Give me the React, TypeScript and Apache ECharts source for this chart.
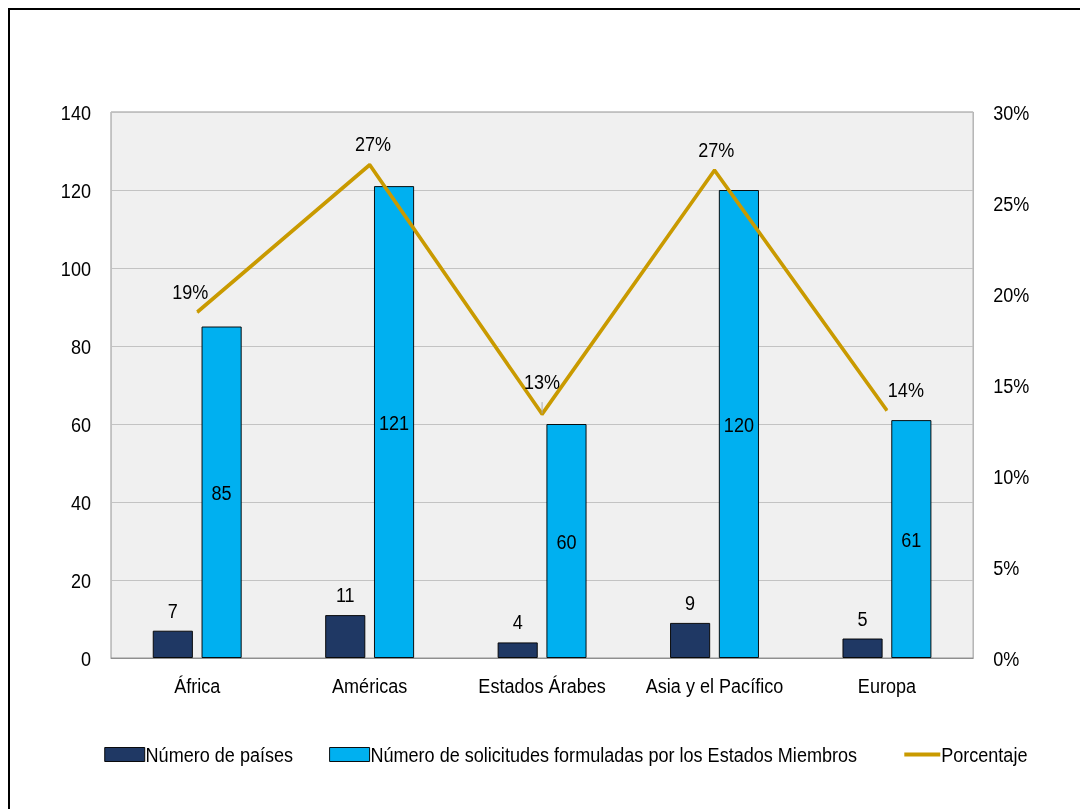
import React, { useEffect, useRef } from "react";
import * as echarts from "echarts";

const categories = ["África", "Américas", "Estados Árabes", "Asia y el Pacífico", "Europa"];
const countries = [7, 11, 4, 9, 5];
const requests = [85, 121, 60, 120, 61];
const percentages = [19.0, 27.1, 13.4, 26.8, 13.6];
const leftTicks = { min: 0, max: 140, interval: 20 };
const rightTicks = { min: 0, max: 30, interval: 5 };

const FONT = "'Liberation Sans', Arial, sans-serif";
const FS = 21;
const SX = 0.86; // horizontal condensing to mimic a narrow typeface
const W = 1080 / SX;
const sx = (v: number) => v / SX;

export default function App() {
  const ref = useRef<HTMLDivElement>(null);
  useEffect(() => {
    if (!ref.current) return;
    const chart = echarts.init(ref.current, null, { renderer: "svg" });
    const lineLabelOffsets: number[][] = [[-8, 0], [4, 0], [0, -12], [2, 0], [22, 0]];
    const legendText = { fontFamily: FONT, fontSize: FS, color: "#000", padding: [0, 0, 0, -4] };
    chart.setOption({
      animation: false,
      textStyle: { fontFamily: FONT, color: "#000" },
      grid: {
        left: sx(111),
        right: sx(107),
        top: 112,
        bottom: 151,
        show: true,
        backgroundColor: "#f0f0f0",
        borderColor: "#8c8c8c",
        borderWidth: 1,
      },
      legend: [
        {
          left: sx(100),
          top: 739,
          itemWidth: sx(40),
          itemHeight: 14,
          itemGap: sx(36),
          textStyle: legendText,
          data: [
            { name: "Número de países", icon: "rect", itemStyle: { borderColor: "#000", borderWidth: 1 } },
            {
              name: "Número de solicitudes formuladas por los Estados Miembros",
              icon: "rect",
              itemStyle: { borderColor: "#000", borderWidth: 1 },
            },
          ],
        },
        {
          left: sx(900),
          top: 739,
          itemWidth: sx(36),
          itemHeight: 14,
          textStyle: legendText,
          data: [{ name: "Porcentaje", icon: "path://M0,0L44,0L44,4L0,4Z" }],
        },
      ],
      xAxis: {
        type: "category",
        data: categories,
        axisLine: { show: true, lineStyle: { color: "#8c8c8c" } },
        axisTick: { show: false },
        axisLabel: { fontFamily: FONT, fontSize: FS, color: "#000", margin: 17, interval: 0 },
      },
      yAxis: [
        {
          type: "value",
          min: leftTicks.min,
          max: leftTicks.max,
          interval: leftTicks.interval,
          axisLine: { show: false },
          axisTick: { show: false },
          splitLine: { show: true, lineStyle: { color: "#c0c0c0", width: 1 } },
          axisLabel: { fontFamily: FONT, fontSize: FS, color: "#000", margin: sx(20) },
        },
        {
          type: "value",
          min: rightTicks.min,
          max: rightTicks.max,
          interval: rightTicks.interval,
          position: "right",
          axisLine: { show: false },
          axisTick: { show: false },
          splitLine: { show: false },
          axisLabel: { fontFamily: FONT, fontSize: FS, color: "#000", margin: sx(20), formatter: "{value}%" },
        },
      ],
      series: [
        {
          name: "Número de países",
          type: "bar",
          data: countries,
          barWidth: sx(40),
          barGap: "22%",
          itemStyle: { color: "#1f3864", borderColor: "#000", borderWidth: 1 },
          label: { show: true, position: "top", distance: 10, fontFamily: FONT, fontSize: FS, color: "#000" },
        },
        {
          name: "Número de solicitudes formuladas por los Estados Miembros",
          type: "bar",
          data: requests,
          barWidth: sx(40),
          itemStyle: { color: "#00b0f0", borderColor: "#000", borderWidth: 1 },
          label: { show: true, position: "inside", fontFamily: FONT, fontSize: FS, color: "#000" },
        },
        {
          name: "Porcentaje",
          type: "line",
          yAxisIndex: 1,
          data: percentages.map((v, i) => ({
            value: v,
            label: { offset: lineLabelOffsets[i] },
            labelLine:
              i === 2
                ? { show: true, lineStyle: { color: "#a6a6a6", width: 1 } }
                : undefined,
          })),
          symbol: "circle",
          symbolSize: 1,
          showSymbol: true,
          lineStyle: { color: "#c99a00", width: 4 },
          itemStyle: { color: "#c99a00" },
          label: {
            show: true,
            position: "top",
            distance: 10,
            fontFamily: FONT,
            fontSize: FS,
            color: "#000",
            formatter: (p: any) => Math.round(p.value) + "%",
          },
        },
      ],
    });
    return () => chart.dispose();
  }, []);
  return (
    <>
      <div
        style={{
          position: "fixed",
          left: 8,
          top: 8,
          width: 1100,
          height: 830,
          borderTop: "2px solid #000",
          borderLeft: "2px solid #000",
          boxSizing: "border-box",
        }}
      />
      <div
        ref={ref}
        style={{
          position: "fixed",
          left: 0,
          top: 0,
          width: W,
          height: 809,
          transform: `scaleX(${SX})`,
          transformOrigin: "0 0",
        }}
      />
    </>
  );
}
